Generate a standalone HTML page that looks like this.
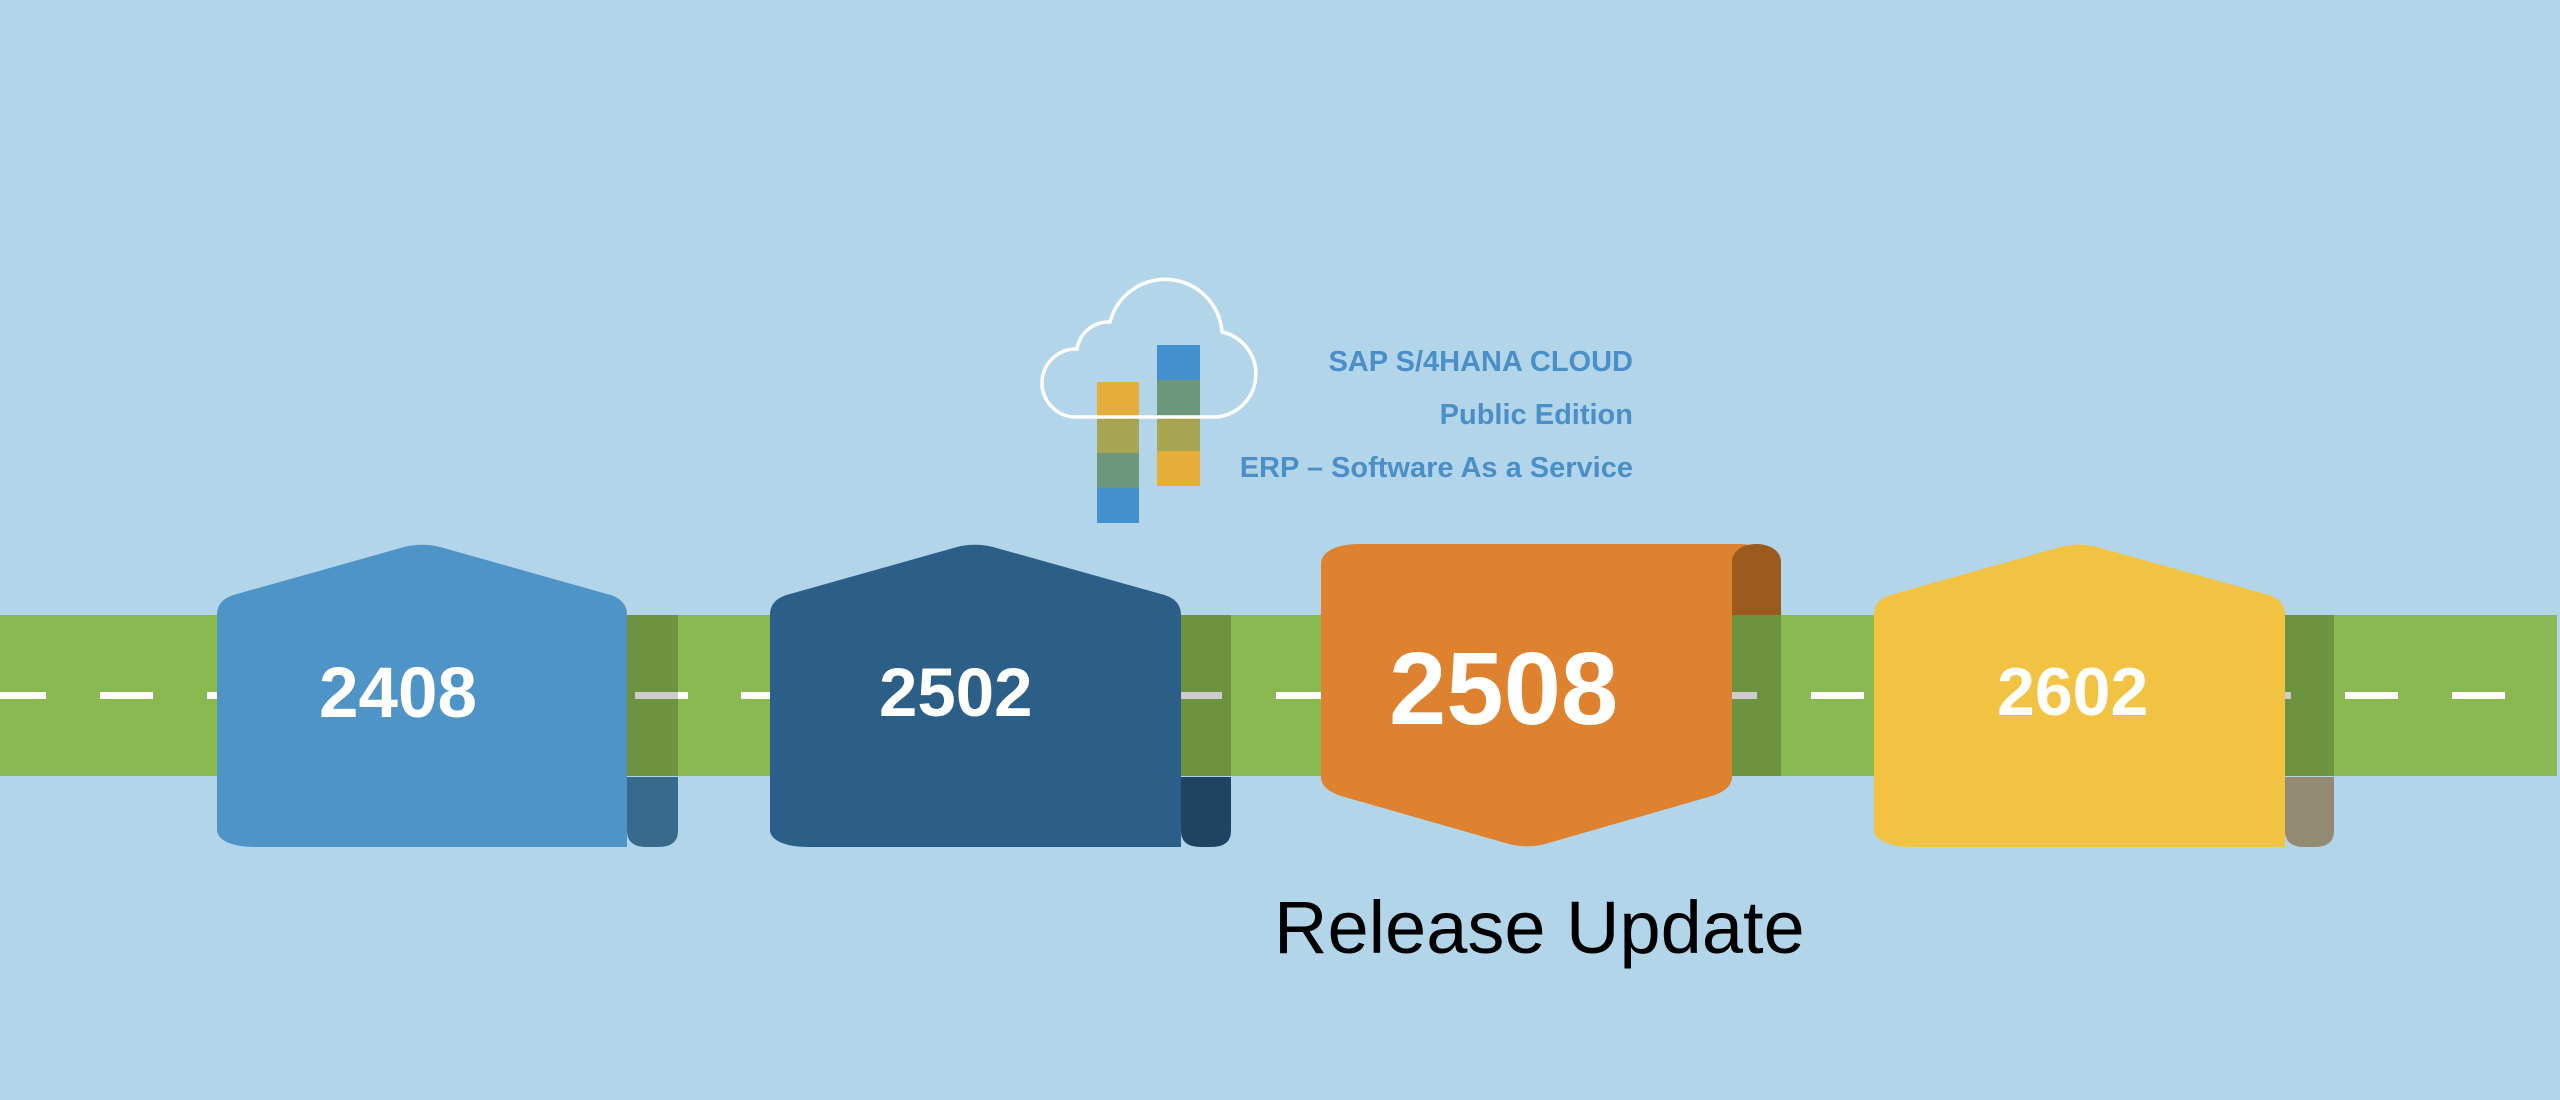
<!DOCTYPE html>
<html>
<head>
<meta charset="utf-8">
<style>
  html,body{margin:0;padding:0;background:#b3d5e9;}
  body{width:2560px;height:1100px;overflow:hidden;}
  svg{display:block;}
  .num{font-family:"Liberation Sans",Arial,sans-serif;font-weight:bold;fill:#ffffff;}
  .logo{font-family:"Liberation Sans",Arial,sans-serif;font-weight:bold;fill:#4b8fc8;font-size:29px;}
  .ru{font-family:"Liberation Sans",Arial,sans-serif;fill:#000;font-size:74px;}
</style>
</head>
<body>
<svg width="2560" height="1100" viewBox="0 0 2560 1100" xmlns="http://www.w3.org/2000/svg">
  <rect x="0" y="0" width="2560" height="1100" fill="#b3d5e9"/>

  <!-- Road -->
  <rect x="0" y="615" width="2557" height="161" fill="#8ab851"/>
  <!-- dashes: start 100 + 106.9k, length 53 -->
  <g fill="#ffffff">
    <rect x="-7" y="692" width="53" height="7"/>
    <rect x="100" y="692" width="53" height="7"/>
    <rect x="207" y="692" width="53" height="7"/>
    <rect x="314" y="692" width="53" height="7"/>
    <rect x="528" y="692" width="53" height="7"/>
    <rect x="635" y="692" width="53" height="7"/>
    <rect x="741" y="692" width="53" height="7"/>
    <rect x="848" y="692" width="53" height="7"/>
    <rect x="1169" y="692" width="53" height="7"/>
    <rect x="1276" y="692" width="53" height="7"/>
    <rect x="1383" y="692" width="53" height="7"/>
    <rect x="1704" y="692" width="53" height="7"/>
    <rect x="1811" y="692" width="53" height="7"/>
    <rect x="1918" y="692" width="53" height="7"/>
    <rect x="2238" y="692" width="53" height="7"/>
    <rect x="2345" y="692" width="53" height="7"/>
    <rect x="2452" y="692" width="53" height="7"/>
  </g>

  <!-- Tabs over road (translucent dark) -->
  <g fill="#000" fill-opacity="0.2">
    <rect x="627" y="615" width="51" height="161"/>
    <rect x="1181" y="615" width="50" height="161"/>
    <rect x="1732" y="615" width="49" height="161"/>
    <rect x="2285" y="615" width="49" height="161"/>
  </g>

  <!-- Tab bottoms -->
  <path d="M627 777 L678 777 L678 831 Q678 847 658 847 L647 847 Q627 847 627 831 Z" fill="#386a8d"/>
  <path d="M1181 777 L1231 777 L1231 831 Q1231 847 1211 847 L1201 847 Q1181 847 1181 831 Z" fill="#1f4462"/>
  <path d="M2285 777 L2334 777 L2334 831 Q2334 847 2314 847 L2305 847 Q2285 847 2285 831 Z" fill="#928a72"/>

  <!-- 2408 house -->
  <path d="M217 830 L217 615 C217 603 225 597 237 594 L404 547 C415 544 429 544 440 547 L607 594 C619 597 627 603 627 615 L627 847 L255 847 C232 847 217 840 217 830 Z" fill="#4f94c7"/>
  <!-- 2502 house -->
  <path d="M770 830 L770 615 C770 603 778 597 790 594 L957 547 C968 544 982 544 993 547 L1161 594 C1173 597 1181 603 1181 615 L1181 847 L808 847 C785 847 770 840 770 830 Z" fill="#2c5f88"/>
  <!-- 2602 house -->
  <path d="M1874 830 L1874 615 C1874 603 1882 597 1894 594 L2061 547 C2072 544 2086 544 2097 547 L2265 594 C2277 597 2285 603 2285 615 L2285 847 L1912 847 C1889 847 1874 840 1874 830 Z" fill="#f2c242"/>

  <!-- 2508 inverted -->
  <path d="M1321 777 L1321 564 C1321 552 1336 544 1359 544 L1740 544 C1752 544 1758 548 1758 556 L1758 600 L1732 600 L1732 777 C1732 786 1724 792 1712 796 L1545 844 C1534 847 1520 847 1509 844 L1341 796 C1329 792 1321 786 1321 777 Z" fill="#de8230"/>
  <path d="M1732 615 L1732 562 C1732 551 1743 544 1756 544 C1770 544 1781 551 1781 562 L1781 615 Z" fill="#9c5a1f"/>

  <!-- numbers -->
  <text class="num" x="319" y="717" font-size="71">2408</text>
  <text class="num" x="879" y="716" font-size="69">2502</text>
  <text class="num" x="1389" y="724" font-size="103">2508</text>
  <text class="num" x="1997" y="715" font-size="68">2602</text>

  <!-- Logo bars -->
  <rect x="1097" y="382" width="42" height="35" fill="#e5ad3a"/>
  <rect x="1097" y="417" width="42" height="36" fill="#a8a552"/>
  <rect x="1097" y="453" width="42" height="35" fill="#6d977c"/>
  <rect x="1097" y="488" width="42" height="35" fill="#4390cf"/>

  <rect x="1157" y="345" width="43" height="35" fill="#4390cf"/>
  <rect x="1157" y="380" width="43" height="35" fill="#6d977c"/>
  <rect x="1157" y="415" width="43" height="36" fill="#a8a552"/>
  <rect x="1157" y="451" width="43" height="35" fill="#e5ad3a"/>

  <!-- Cloud -->
  <path d="M1075 417 A34 34 0 0 1 1077 349 A32 32 0 0 1 1110 322 A57 57 0 0 1 1222 332 A43 43 0 0 1 1212 417 Z" fill="none" stroke="#ffffff" stroke-width="3.5" stroke-linejoin="round"/>

  <!-- Logo text -->
  <text class="logo" x="1633" y="371" text-anchor="end">SAP S/4HANA CLOUD</text>
  <text class="logo" x="1633" y="424" text-anchor="end">Public Edition</text>
  <text class="logo" x="1633" y="477" text-anchor="end">ERP – Software As a Service</text>

  <!-- Release Update -->
  <text class="ru" x="1274" y="953">Release Update</text>
</svg>
</body>
</html>
